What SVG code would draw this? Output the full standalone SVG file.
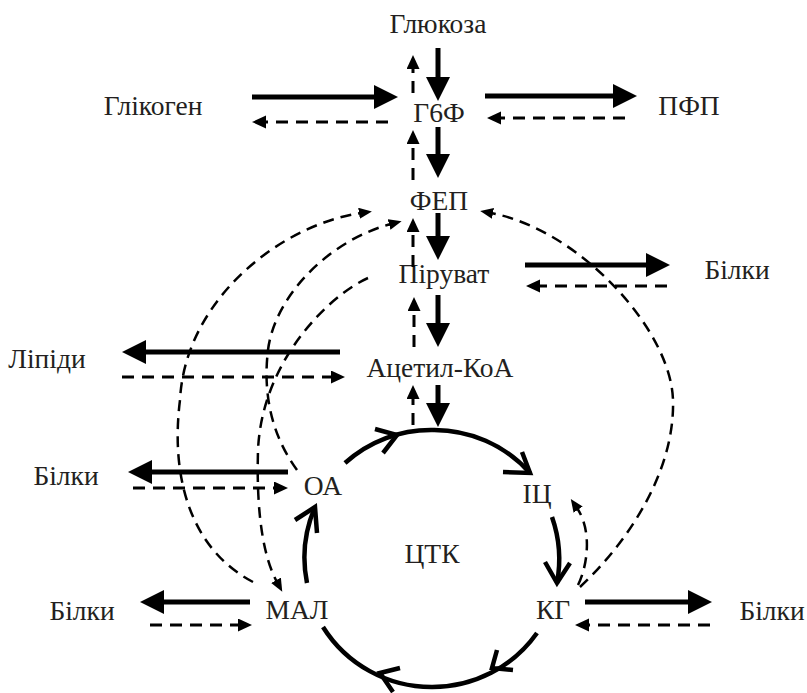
<svg xmlns="http://www.w3.org/2000/svg" width="807" height="693" viewBox="0 0 807 693">
<defs>
<style>
text{font-size:27.5px;fill:#231f20;text-anchor:middle}
.s{stroke:#000;stroke-width:5;fill:none;marker-end:url(#hs)}
.d{stroke:#000;stroke-width:3;fill:none;stroke-dasharray:12 8;marker-end:url(#hd)}
.c{stroke:#000;stroke-width:2.5;fill:none;stroke-dasharray:11 7;marker-end:url(#hc)}
.k{stroke:#000;stroke-width:4.5;fill:none;stroke-linecap:butt}
</style>
<marker id="hs" markerUnits="userSpaceOnUse" markerWidth="26" markerHeight="26" refX="4" refY="12" orient="auto"><path d="M0,0 L24,12 L0,24 z" fill="#000"/></marker>
<marker id="hd" markerUnits="userSpaceOnUse" markerWidth="16" markerHeight="15" refX="3" refY="6.5" orient="auto"><path d="M0,0 L14,6.5 L0,13 z" fill="#000"/></marker>
<marker id="hc" markerUnits="userSpaceOnUse" markerWidth="15" markerHeight="13" refX="2" refY="5.5" orient="auto"><path d="M0,0 L13,5.5 L0,11 z" fill="#000"/></marker>
</defs>
<rect width="807" height="693" fill="#fff"/>

<g font-family="Liberation Serif, serif">
<g id="n-glucose"><text x="438" y="33">Глюкоза</text></g>
<g id="n-glycogen"><text x="153" y="115">Глікоген</text></g>
<g id="n-g6f"><text x="439" y="122">Г6Ф</text></g>
<g id="n-pfp"><text x="689" y="115">ПФП</text></g>
<g id="n-fep"><text x="439" y="210">ФЕП</text></g>
<g id="n-pyruvate"><text x="444" y="283">Піруват</text></g>
<g id="n-proteins1"><text x="737" y="279">Білки</text></g>
<g id="n-lipids"><text x="47" y="368">Ліпіди</text></g>
<g id="n-acetylcoa"><text x="440" y="377">Ацетил-КоА</text></g>
<g id="n-proteins2"><text x="66" y="485">Білки</text></g>
<g id="n-oa"><text x="323" y="495">ОА</text></g>
<g id="n-ic"><text x="537" y="503">ІЦ</text></g>
<g id="n-tca"><text x="432" y="563">ЦТК</text></g>
<g id="n-mal"><text x="297" y="619">МАЛ</text></g>
<g id="n-kg"><text x="553" y="619">КГ</text></g>
<g id="n-proteins3"><text x="82" y="620">Білки</text></g>
<g id="n-proteins4"><text x="772" y="620">Білки</text></g>
</g>

<g id="connectors">
<line class="s" x1="438" y1="48" x2="438" y2="81"/>
<line class="s" x1="252" y1="97" x2="378" y2="97"/>
<line class="s" x1="485" y1="96" x2="617" y2="96"/>
<line class="s" x1="438" y1="127" x2="438" y2="158"/>
<line class="s" x1="438" y1="213" x2="438" y2="240"/>
<line class="s" x1="525" y1="265" x2="650" y2="265"/>
<line class="s" x1="438" y1="295" x2="438" y2="327"/>
<line class="s" x1="340" y1="352" x2="142" y2="352"/>
<line class="s" x1="438" y1="385" x2="438" y2="407"/>
<line class="s" x1="288" y1="472" x2="148" y2="472"/>
<line class="s" x1="250" y1="602" x2="160" y2="602"/>
<line class="s" x1="585" y1="602" x2="692" y2="602"/>
<line class="d" x1="413" y1="93" x2="413" y2="66"/>
<line class="d" x1="388" y1="122" x2="263" y2="122"/>
<line class="d" x1="625" y1="118" x2="498" y2="118"/>
<line class="d" x1="413" y1="180" x2="413" y2="141"/>
<line class="d" x1="413" y1="267" x2="413" y2="229"/>
<line class="d" x1="414" y1="347" x2="414" y2="308"/>
<line class="d" x1="667" y1="286" x2="537" y2="286"/>
<line class="d" x1="122" y1="377" x2="334" y2="377"/>
<line class="d" x1="413" y1="425" x2="413" y2="396"/>
<line class="d" x1="133" y1="488" x2="277" y2="488"/>
<line class="d" x1="150" y1="625" x2="241" y2="625"/>
<line class="d" x1="710" y1="625" x2="586" y2="625"/>
<path class="c" d="M253,582 C192,550 170,480 180,400 C185,300 280,225 361,213"/>
<path class="c" d="M297,470 C275,440 262,400 268,350 C275,295 330,240 391,224"/>
<path class="c" d="M368,278 C330,295 262,360 258,450 C256,520 265,560 277,582"/>
<path class="c" d="M580,587 C630,540 675,470 673,400 C671,330 580,230 491,213"/>
<path class="c" d="M578,585 C588,565 592,530 577,508"/>
<path class="k" d="M345,463 A128,128 0 0 1 432,430"/>
<path class="k" d="M375,429 L397,435 L383,453"/>
<path class="k" d="M432,430 A128,128 0 0 1 530,473"/>
<path class="k" d="M503,472 L530,473 L522,452"/>
<path class="k" d="M552,517 A128,128 0 0 1 557,583"/>
<path class="k" d="M545,562 L557,583 L570,563"/>
<path class="k" d="M537,633 A128,128 0 0 1 432,687"/>
<path class="k" d="M497,650 L492,668 L513,670"/>
<path class="k" d="M432,687 A128,128 0 0 1 323,627"/>
<path class="k" d="M400,668 L380,673 L393,692"/>
<path class="k" d="M307,583 A128,128 0 0 1 315,507"/>
<path class="k" d="M295,520 L315,507 L317,533"/>
</g>
</svg>
